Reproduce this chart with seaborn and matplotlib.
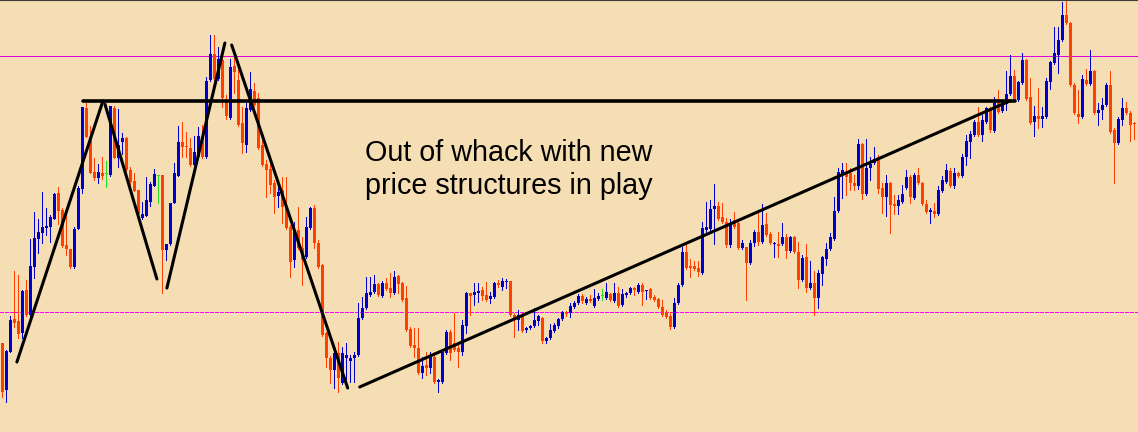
import numpy as np
import pandas as pd
import seaborn as sns
import matplotlib
matplotlib.use("Agg")
import matplotlib.pyplot as plt

# candle readings, measured in chart rows from the top of the window (0 = top, 432 = bottom)
TOP = 432
opens = [
    343, 390, 352, 319, 321, 333, 290, 315, 267, 239,
    233, 228, 227, 219, 193, 210, 245, 249, 267, 229,
    189, 108, 137, 172, 178, 173, 174, 175, 108, 158,
    142, 138, 170, 181, 190, 218, 216, 202, 186, 176,
    175, 250, 244, 203, 176, 142, 146, 148, 165, 157,
    137, 157, 80, 54, 79, 60, 100, 118, 66, 80,
    123, 145, 110, 91, 98, 145, 164, 169, 183, 196,
    190, 207, 227, 260, 230, 248, 257, 228, 208, 243,
    265, 333, 358, 370, 353, 383, 358, 361, 358, 355,
    318, 308, 295, 292, 284, 296, 283, 288, 293, 276,
    283, 298, 329, 345, 348, 373, 365, 368, 357, 382,
    382, 353, 332, 343, 348, 352, 326, 293, 295, 293,
    290, 295, 299, 297, 283, 287, 282, 281, 315, 320,
    315, 330, 328, 326, 321, 318, 341, 338, 331, 326,
    319, 312, 313, 307, 303, 296, 303, 299, 306, 299,
    296, 298, 294, 301, 293, 305, 295, 293, 288, 292,
    285, 291, 289, 297, 299, 307, 312, 316, 327, 303,
    285, 252, 266, 266, 268, 273, 230, 229, 209, 206,
    217, 222, 245, 220, 223, 248, 247, 263, 243, 232,
    242, 224, 234, 244, 244, 244, 237, 251, 237, 252,
    280, 257, 288, 283, 298, 274, 259, 249, 239, 211,
    175, 172, 173, 183, 186, 144, 194, 168, 163, 157,
    188, 197, 183, 204, 206, 202, 188, 177, 198, 175,
    183, 204, 212, 211, 214, 191, 182, 171, 186, 173,
    176, 157, 142, 135, 122, 135, 122, 108, 131, 103,
    111, 104, 94, 76, 100, 83, 60, 97, 122, 116,
    119, 117, 82, 63, 55, 40, 15, 23, 85, 114,
    117, 80, 84, 71, 113, 110, 105, 85, 130, 143,
    120, 108, 113, 123,
]
closes = [
    392, 351, 320, 323, 334, 291, 315, 266, 238, 232,
    227, 226, 217, 194, 211, 246, 249, 267, 229, 188,
    107, 137, 173, 178, 172, 176, 174, 106, 158, 145,
    138, 170, 182, 191, 214, 214, 200, 184, 174, 176,
    250, 244, 203, 173, 142, 147, 147, 165, 152, 136,
    157, 81, 54, 79, 59, 98, 116, 67, 72, 125,
    143, 108, 89, 105, 148, 165, 170, 185, 197, 192,
    207, 228, 262, 230, 248, 260, 227, 208, 243, 267,
    335, 358, 370, 353, 378, 353, 355, 358, 355, 318,
    308, 293, 292, 284, 295, 283, 289, 293, 277, 284,
    300, 330, 346, 348, 373, 366, 368, 356, 382, 380,
    352, 332, 353, 350, 352, 325, 293, 296, 292, 291,
    296, 300, 296, 283, 285, 281, 281, 315, 318, 315,
    331, 328, 326, 320, 316, 341, 338, 330, 325, 319,
    312, 314, 306, 303, 296, 301, 299, 301, 298, 296,
    296, 292, 300, 293, 306, 294, 293, 288, 290, 285,
    292, 290, 298, 300, 307, 315, 317, 327, 303, 285,
    252, 268, 268, 269, 272, 228, 227, 209, 206, 219,
    222, 245, 223, 227, 248, 243, 263, 243, 232, 242,
    225, 235, 243, 243, 246, 237, 251, 237, 252, 280,
    258, 288, 283, 298, 273, 257, 249, 237, 211, 172,
    170, 177, 183, 186, 144, 194, 168, 164, 159, 189,
    197, 183, 205, 206, 200, 194, 177, 197, 175, 183,
    204, 212, 210, 214, 190, 180, 170, 186, 173, 176,
    157, 141, 134, 122, 135, 120, 108, 130, 103, 112,
    104, 94, 76, 100, 82, 60, 99, 123, 116, 119,
    116, 81, 62, 53, 40, 15, 23, 85, 113, 117,
    79, 84, 71, 113, 110, 105, 85, 132, 143, 119,
    108, 113, 125, 124,
]
highs = [
    343, 350, 316, 271, 275, 290, 280, 239, 212, 219,
    192, 208, 215, 193, 187, 208, 215, 249, 227, 186,
    107, 103, 126, 158, 164, 157, 161, 106, 106, 109,
    133, 137, 167, 173, 190, 202, 177, 182, 169, 176,
    175, 244, 203, 163, 126, 122, 132, 138, 136, 127,
    125, 77, 35, 35, 47, 53, 95, 59, 55, 70,
    107, 103, 72, 83, 93, 140, 160, 163, 180, 180,
    177, 177, 225, 222, 207, 237, 217, 207, 205, 240,
    264, 332, 356, 347, 342, 347, 343, 355, 352, 303,
    297, 277, 277, 275, 283, 281, 278, 273, 271, 275,
    282, 286, 327, 328, 328, 357, 352, 352, 352, 379,
    350, 330, 330, 313, 343, 320, 292, 293, 283, 283,
    287, 282, 292, 282, 280, 278, 279, 281, 313, 310,
    313, 327, 325, 308, 315, 317, 337, 324, 323, 318,
    311, 311, 303, 301, 294, 294, 297, 295, 289, 293,
    289, 283, 293, 283, 287, 289, 292, 287, 287, 283,
    283, 290, 288, 295, 298, 300, 310, 312, 298, 283,
    247, 243, 259, 261, 261, 222, 202, 200, 184, 202,
    203, 218, 219, 212, 220, 240, 247, 240, 230, 213,
    204, 213, 232, 242, 232, 223, 234, 236, 236, 242,
    255, 244, 261, 271, 270, 256, 243, 233, 197, 168,
    163, 163, 168, 175, 139, 143, 139, 157, 147, 155,
    183, 175, 182, 195, 195, 185, 170, 175, 173, 168,
    182, 200, 208, 203, 186, 176, 164, 168, 168, 172,
    154, 135, 131, 120, 107, 115, 107, 107, 97, 90,
    100, 71, 55, 70, 81, 53, 59, 78, 106, 88,
    107, 78, 61, 27, 27, 2, 1, 22, 83, 90,
    75, 69, 50, 70, 103, 98, 83, 71, 128, 117,
    98, 102, 111, 122,
]
lows = [
    397, 402, 352, 327, 338, 338, 316, 316, 278, 253,
    243, 235, 242, 219, 224, 247, 255, 268, 268, 229,
    193, 137, 173, 180, 183, 179, 187, 176, 158, 167,
    154, 171, 188, 191, 214, 219, 216, 206, 186, 203,
    293, 260, 245, 203, 176, 157, 157, 166, 166, 158,
    158, 158, 81, 80, 80, 107, 119, 119, 93, 126,
    153, 152, 111, 106, 149, 166, 197, 193, 213, 207,
    223, 229, 277, 267, 249, 285, 258, 229, 248, 268,
    336, 367, 383, 388, 392, 384, 382, 382, 382, 356,
    319, 309, 296, 293, 296, 297, 290, 297, 294, 293,
    301, 331, 347, 357, 374, 378, 375, 373, 383, 392,
    383, 354, 360, 351, 367, 355, 333, 315, 305, 302,
    300, 301, 303, 298, 287, 290, 288, 316, 337, 330,
    332, 332, 329, 327, 325, 343, 343, 339, 332, 328,
    320, 316, 317, 308, 304, 303, 304, 302, 307, 300,
    300, 299, 301, 302, 307, 306, 297, 294, 295, 293,
    305, 299, 299, 301, 308, 316, 318, 329, 328, 304,
    286, 269, 277, 270, 276, 274, 235, 230, 244, 220,
    223, 247, 247, 228, 249, 249, 300, 264, 246, 245,
    243, 236, 244, 257, 257, 245, 258, 252, 253, 288,
    281, 292, 289, 315, 308, 285, 265, 250, 240, 212,
    198, 195, 190, 190, 189, 199, 195, 180, 164, 193,
    213, 216, 233, 214, 214, 203, 189, 203, 199, 184,
    205, 213, 223, 217, 215, 192, 183, 187, 188, 177,
    177, 165, 158, 136, 136, 141, 123, 132, 132, 113,
    112, 110, 95, 101, 101, 84, 100, 124, 136, 128,
    127, 118, 89, 64, 73, 41, 24, 86, 114, 123,
    118, 85, 85, 114, 125, 119, 106, 133, 183, 144,
    125, 114, 141, 139,
]

# hand drawn trend lines: bar index and chart row of each end
trend_bars = [[3.6, 25.1], [25.6, 38.6], [41.1, 55.6], [57.3, 86.3], [89.3, 251.8]]
trend_rows = [[362, 101], [104, 279], [288, 43], [45, 388], [387, 101]]
flat_bars = [20.1, 253.1]
flat_row = 101
upper_level_row = 55.5
lower_level_row = 311.5

note = "Out of whack with new\nprice structures in play"

BG = "#F5DEB3"
BULL = "#0000CD"
BEAR = "#FF4000"
DOJI = "#22DD22"

df = pd.DataFrame({
    "bar": np.arange(len(opens)),
    "open": TOP - np.array(opens),
    "high": TOP - np.array(highs),
    "low": TOP - np.array(lows),
    "close": TOP - np.array(closes),
})
df["color"] = np.where(df["close"] > df["open"], BULL,
                       np.where(df["close"] < df["open"], BEAR, DOJI))
df["body_lo"] = df[["open", "close"]].min(axis=1)
df["body_h"] = np.maximum((df["close"] - df["open"]).abs(), 1.0)

lines = []
for k, (bx, rows) in enumerate(zip(trend_bars, trend_rows)):
    for b, r in zip(bx, rows):
        lines.append({"line": k, "bar": b, "price": TOP - r})
lines_df = pd.DataFrame(lines)

sns.set_style("white", {"axes.facecolor": BG, "figure.facecolor": BG})
plt.rcParams["font.family"] = ["Liberation Sans", "DejaVu Sans"]

fig = plt.figure(figsize=(11.38, 4.32), dpi=100)
ax = fig.add_axes([0, 0, 1, 1])
ax.set_facecolor(BG)

# 0.72 pt is one pixel at 100 dpi
ax.axhline(TOP - upper_level_row, color="#E000E0", lw=0.72, antialiased=False, zorder=1)
ax.axhline(TOP - lower_level_row, color="#FF00FF", lw=0.72, ls=(0, (3, 2)),
           antialiased=False, zorder=1)

ax.vlines(df["bar"], df["low"], df["high"], colors=df["color"], lw=0.72,
          antialiased=False, zorder=2)
ax.bar(df["bar"], df["body_h"], bottom=df["body_lo"], width=0.8,
       color=df["color"], linewidth=0, antialiased=False, zorder=3)

sns.lineplot(data=lines_df, x="bar", y="price", units="line", estimator=None,
             sort=False, color="black", lw=2.2, ax=ax, zorder=4)
ax.plot(flat_bars, [TOP - flat_row] * 2, color="black", lw=2.6, zorder=4)

ax.text(365 / 1138, 1 - 139 / 432, note, transform=ax.transAxes, fontsize=20.7,
        va="top", ha="left", color="black", linespacing=1.25)

# 4 px per bar, bar centres on pixel centres
ax.set_xlim(-0.625, -0.625 + 1138 / 4)
ax.set_ylim(0, TOP)
ax.set_xticks([])
ax.set_yticks([])
ax.set_xlabel("")
ax.set_ylabel("")
for side in ["left", "right", "bottom"]:
    ax.spines[side].set_visible(False)
ax.spines["top"].set_color("#3C3C3C")
ax.spines["top"].set_linewidth(1.5)

fig.savefig("out.png", dpi=100, facecolor=BG)
